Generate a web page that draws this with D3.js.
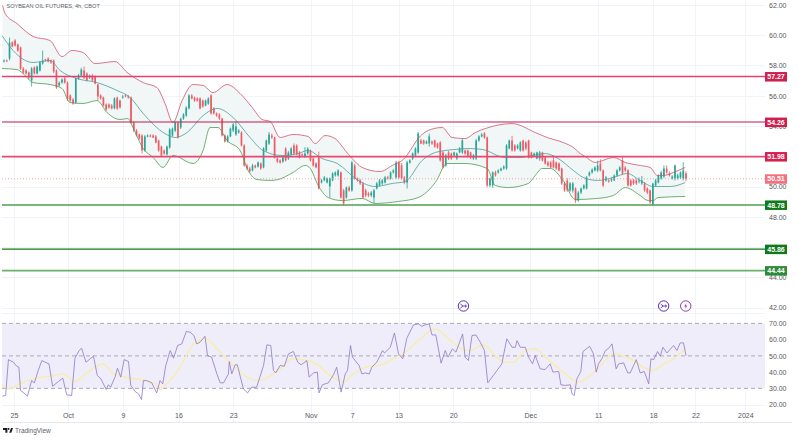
<!DOCTYPE html>
<html><head><meta charset="utf-8">
<script src="https://cdn.jsdelivr.net/npm/d3@7"></script>
<style>
html,body{margin:0;padding:0;background:#fff;overflow:hidden}
svg{display:block}
text{font-family:"Liberation Sans",Arial,sans-serif}
</style></head><body>
<svg id="c" width="799" height="440"></svg>
<script>
const opens=[
58.26,58.33,58.46,59.52,59.65,59.39,59.19,57.8,57.67,57.54,
57.01,57.87,57.47,57.67,58.13,58.4,58.46,58.33,58.33,57.67,
56.68,56.87,57.14,56.87,56.02,55.75,55.55,57.14,57.34,57.67,
57.47,57.2,57.34,57.27,56.74,56.02,55.88,55.42,55.42,55.35,
55.16,55.88,55.68,55.88,56.02,55.95,55.88,54.23,53.7,53.44,
53.37,52.38,53.31,53.37,53.37,53.31,53.04,52.64,52.38,52.12,
52.58,53.37,53.7,54.23,53.9,54.49,54.69,55.16,56.02,55.88,
55.82,55.82,55.68,55.35,55.48,56.02,55.16,54.83,54.76,54.49,
53.37,52.97,53.31,53.7,53.44,53.57,53.57,52.71,51.39,51.19,
51.06,51.39,51.32,51.52,51.26,52.38,52.84,53.37,53.24,51.85,
51.72,51.65,52.51,51.85,52.12,52.71,52.71,52.25,52.12,51.98,
52.18,52.38,51.85,51.52,51.92,50.26,50.4,50.26,50,50.4,
50.73,50.73,50.93,49.74,49.27,49.94,49.74,51.39,50.53,50.4,
50.2,49.74,49.54,49.41,49.27,49.87,50.07,50.2,50.26,50.6,
50.53,50.93,50.6,51.59,51.39,50.6,50.26,51.59,51.85,52.05,
52.25,53.04,53.04,52.84,52.84,52.97,53.04,52.84,52.91,52.25,
51.39,52.25,52.18,52.05,51.85,52.25,52.25,52.38,52.38,52.25,
51.85,51.85,53.04,53.31,53.5,53.24,50.07,50.07,50.93,50.93,
51.06,51.19,51.19,52.51,53.04,52.71,52.51,52.38,53.04,52.91,
53.04,52.25,52.05,51.85,51.85,52.25,51.92,51.59,51.59,51.72,
51.59,51.52,51.19,50.2,50.4,49.74,49.74,49.87,49.07,49.6,
49.87,49.87,50.73,50.93,51.06,51.06,51.52,51.06,50.4,50.4,
50.4,50.4,50.73,51.06,51.72,51.26,51.06,50.4,50.4,50.4,
50.33,50.2,50.2,49.87,49.74,48.81,50.07,50.26,50.53,50.66,
51.19,50.86,50.53,50.53,50.53,50.6,50.53,50.86];
const closes=[
58.33,58.3,59.52,59.25,59.32,58.99,57.8,57.54,57.47,57.2,
57.8,57.47,57.93,58.2,58.33,58.33,58.26,58.2,57.6,56.54,
56.87,57.07,56.87,55.75,55.68,55.48,57.14,57.34,57.73,57.2,
57.01,57.34,57.01,56.81,55.95,55.82,55.35,55.09,55.22,55.16,
55.82,55.16,55.22,55.95,55.95,55.88,54.23,53.7,53.37,53.17,
52.38,53.31,53.37,53.31,53.24,52.91,52.38,52.05,52.18,52.64,
53.77,53.83,54.23,53.24,54.49,54.76,55.22,56.02,55.82,55.68,
55.68,55.16,55.29,55.68,55.82,54.83,54.83,54.69,54.49,53.37,
52.97,53.31,53.83,54.1,53.97,53.7,52.71,51.39,51.19,50.99,
51.39,51.26,51.59,51.19,52.51,53.04,53.44,53.24,51.92,51.65,
51.59,51.92,51.72,52.25,52.51,52.18,52.12,51.92,52.05,52.18,
52.51,51.72,51.39,51.26,49.87,50.4,50.6,50.53,50.53,50.86,
50.93,51.06,49.27,48.88,49.94,49.74,51.59,50.53,50.4,50.2,
49.27,49.41,49.41,49.6,49.74,50.2,50.4,50.4,50.6,50.58,
50.93,51.06,51.59,50.6,50.53,50.26,51.59,51.72,52.18,52.51,
53.5,52.84,52.84,52.97,53.31,52.84,52.64,52.58,51.72,51.26,
52.05,51.85,51.85,52.25,52.18,52.51,53.04,52.18,51.98,51.92,
52.05,53.04,53.31,53.44,53.24,50.07,50.53,50.93,50.73,51.06,
51.19,51.32,52.71,53.04,52.38,52.38,52.71,52.91,52.38,52.51,
51.92,51.92,52.18,52.25,52.25,51.72,51.52,51.39,51.26,51.26,
51.19,51.06,50.2,49.74,49.74,50.2,50.2,49.07,49.6,49.87,
50.07,50.6,50.93,51.12,51.26,51.39,51.06,50.07,50.6,50.33,
50.53,50.73,51.06,51.26,50.86,51.06,50.07,50.07,50.2,50.2,
50.4,50.4,49.74,49.6,48.95,50.2,50.4,50.73,50.93,51.19,
50.93,50.73,50.66,51.39,50.73,50.93,51.06,50.51];
const highs=[
58.4,58.4,59.85,59.6,59.75,59.45,59.25,57.9,57.75,57.6,
57.9,57.95,58,58.3,58.99,58.45,58.55,58.4,58.4,57.75,
56.95,57.15,57.25,56.95,56.1,55.85,57.2,57.45,57.85,57.93,
57.55,57.4,57.45,57.35,56.8,56.1,55.95,55.5,55.5,55.45,
55.9,55.95,55.75,56.05,56.1,56.05,55.95,54.3,53.8,53.5,
53.45,53.4,53.45,53.45,53.45,53.4,53.1,52.7,52.45,52.7,
53.85,53.9,54.3,54.3,54.55,54.85,55.3,56.1,56.1,55.95,
55.9,55.9,55.75,55.75,55.9,56.1,55.25,54.9,54.85,54.55,
53.45,53.4,53.9,54.2,54.3,53.8,53.65,52.8,51.5,51.3,
51.5,51.45,51.65,51.6,52.6,53.1,53.6,53.5,53.3,51.95,
51.8,52,52.6,52.35,52.6,52.85,52.8,52.35,52.2,52.6,
52.6,52.45,51.95,51.6,52.3,50.5,50.7,50.6,50.6,50.95,
51,51.15,51.0,49.85,50,50.05,51.7,51.5,50.6,50.5,
50.3,49.85,49.65,49.7,49.85,50.3,50.5,50.5,50.7,50.7,
51,51.15,51.7,51.7,51.55,50.7,51.7,51.8,52.25,52.6,
53.6,53.15,53.1,53.05,53.5,53.05,53.1,52.9,53,52.35,
52.15,52.35,52.25,52.3,52.25,52.6,53.15,52.45,52.45,52.3,
52.15,53.15,53.4,53.55,53.6,53.3,50.6,51,51.05,51.15,
51.25,51.4,52.8,53.1,53.35,52.8,52.8,53,53.1,53,
53.1,52.3,52.25,52.3,52.35,52.3,52,51.7,51.7,52.05,
51.65,51.6,51.25,50.3,50.55,50.3,50.3,49.95,49.7,49.95,
50.15,50.7,51,51.2,51.35,51.7,51.8,51.12,50.7,50.5,
50.6,50.8,51.15,51.35,52.0,51.35,51.15,50.5,50.5,50.5,
50.6,50.7,50.3,49.95,49.8,50.25,50.5,50.8,51.05,51.4,
51.4,51,50.75,51.45,50.85,51,51.6,51];
const lows=[
58.2,58.25,58.33,59.2,59.25,58.9,57.7,57.45,57.4,57.1,
56.61,57.4,57.4,57.6,58.05,58.25,58.2,58.1,57.5,56.45,
56.6,56.8,56.8,55.65,55.6,55.4,55.45,57.05,57.3,57.1,
56.95,57.1,56.95,56.75,55.68,55.75,55.3,55.0,55.15,55.1,
55.1,55.05,55.15,55.8,55.9,55.8,54.15,53.6,53.3,53.1,
52.18,52.3,53.25,53.25,53.2,52.85,52.3,51.95,52.1,52.05,
52.5,53.3,53.6,53.17,53.8,54.4,54.6,55.1,55.75,55.6,
55.6,55.1,55.2,55.3,55.4,54.75,54.75,54.6,54.4,53.3,
52.9,52.9,53.25,53.6,53.35,53.5,52.65,51.3,51.1,50.9,
51,51.2,51.25,51.1,51.2,52.3,52.75,53.15,51.85,51.55,
51.5,51.55,51.65,51.75,52.05,52.1,52.05,51.85,51.95,51.9,
52.1,51.65,51.3,51.2,49.8,50.2,50.35,50.2,49.27,50.35,
50.65,50.65,49.2,48.74,49.2,49.65,49.65,50.45,50.3,50.1,
49.2,49.3,49.3,49.3,48.88,49.8,50,50.1,50.2,50.45,
50.45,50.85,50.5,50.5,50.45,50.15,49.87,51.5,51.75,52,
52.15,52.8,52.75,52.8,52.64,52.75,52.55,52.5,51.65,51.2,
51.3,51.75,51.75,51.95,51.75,52.2,52.15,52.05,51.9,51.8,
51.75,51.75,52.95,53.25,53.15,49.95,49.95,49.9,50.65,50.85,
51,51.1,51.1,52.45,52.3,52.3,52.45,52.3,52.3,52.4,
51.85,51.85,51.95,51.8,51.7,51.65,51.45,51.3,51.2,51.2,
51.1,51,50.1,49.65,49.65,49.65,49.6,48.9,49,49.5,
49.8,49.8,50.65,50.85,51,50.95,51,49.95,50.3,50.25,
50.3,50.35,50.65,51,50.75,50.95,50,50,50.1,50.1,
50.2,50.1,49.65,49.5,48.85,48.7,50,50.2,50.45,50.55,
50.85,50.65,50.45,50.4,50.45,50.5,50.4,50.35];

const upperBars=[-0.5,0.4,4.7,10.5,16.7,21,24.6,28.6,33,40.2,44.6,50.4,55.4,58.3,61.2,64.5,68.5,72.1,75.7,80.8,85.5,89.9,93.5,96.4,100,104.7,110.1,112.7,116.3,119.9,123.6,126.1,129.7,136.2,140.6,145.3,147.1,150,153.6,158.7,162.3,167,170.7,174.3,184,192.4,196.7,202.5,206.2,208.7,210.5,214.1,220.7,225,230.4,234,236.6,238.8,242.4,246.7];
const upperVals=[61.96,61.44,60.77,59.92,59.65,58.59,58.99,58.86,58.13,58.26,57.54,56.87,56.54,55.49,54.23,55.68,56.74,56.68,56.21,56.74,56.15,55.22,54.43,54.3,53.24,53.44,53.31,52.84,53.37,53.17,52.38,51.85,51.26,50.99,51.39,51.92,52.38,53.17,53.7,53.9,53.24,53.17,53.57,53.83,54.16,53.57,53.24,52.91,52.58,52.18,51.98,51.59,51.92,51.59,51.39,51.26,50.73,50.73,50.93,51.26];
const middleBars=[-0.7,3.3,10.5,16.7,20.3,26.4,33.7,40.9,45.7,50.4,58.3,62,66.3,72.1,77.2,83,89.1,93.8,100.7,106.5,110.1,115.2,120.7,128.3,134.4,140.6,145.3,151.4,156.2,163.4,168.1,173.2,181.5,187,191.3,196,200.7,206.2,209.8,214.9,220.7,225.7,230.4,235.1,241.3,246.7];
const middleVals=[59.98,58.99,58.2,58.33,57.67,57.14,56.87,56.35,55.88,54.83,53.5,53.24,53.57,54.69,55.16,54.56,53.24,52.38,52.05,52.18,52.38,51.85,51.52,50.4,50,50.2,50.33,51.72,52.25,52.45,52.51,52.45,51.92,51.92,52.05,52.18,51.85,51.06,50.6,50.4,50.6,50.86,50.4,50,50,50.26];
const lowerBars=[-0.7,4.7,6.9,10.5,16.7,21,23.9,28.6,33.7,37.3,42,44.9,46.7,50.4,54,57.6,61.2,68.5,72.1,74.6,77.5,80.8,85.5,88.4,91.7,96.4,99.3,104.7,109.1,110.9,113.8,117.4,122.5,129.7,134.4,142.8,150,156.2,160.5,167,175,177.9,182.6,189.9,192.4,194.9,197.8,202.5,206.9,214.9,220.7,225,230.4,233.3,235.1,236.9,246.7];
const lowerVals=[57.8,57.73,57.47,56.87,56.74,56.48,55.55,55.49,55.68,54.89,54.43,54.49,53.9,52.51,51.92,51.26,52.05,51.52,52.38,53.9,53.9,53.04,52.38,51.06,50.46,50.4,50.46,50.93,51.39,51.19,50.07,49.27,49.07,49.21,48.88,49.01,49.27,50.26,51.52,51.52,51.19,50.07,49.93,50.2,50.73,51.19,51.19,50.4,49.14,49.21,49.41,49.93,49.41,49.07,49.07,49.27,49.34];

const rsiBars=[-0.6,0.6,1.6,3.4,4.6,5.4,6,7.2,8.5,10,11,12.4,13.7,14.9,16.3,17.6,19.7,21.3,22.7,24.5,25.7,27.2,28.1,29.7,31.2,32.4,33.8,35.1,37,37.8,38.6,40.2,41.1,42.3,43.5,45.1,45.9,47.5,48.7,49.8,50.5,51.7,53.5,55.3,56.5,57.5,58.6,60.2,61.4,62.9,64.4,66,67.4,68.8,69.8,71,72.8,73.7,75.2,77.1,78.3,79.5,81.3,81.6,82.5,83.7,84.5,86.7,88.2,89.7,91.5,94,95.2,96.6,97.6,98.4,100,101.5,103,104.8,106.4,107.6,109.7,110.5,112.1,113.5,114.1,115.3,117.5,119.3,120.5,122.1,123.6,124.4,125.5,126.2,128.6,129.6,130.8,132.3,133.2,135,137.1,137.8,139.9,141.4,142.9,144.4,145.9,148.3,150.1,151.3,152.5,154,155,156.4,158.3,159.8,160.8,162.4,163.7,166.1,167,168.2,169.5,170.9,172.5,174,175.2,177.9,180.3,182.1,184,185.2,185.8,187,188.8,190,191.4,192.4,194.2,196,197.8,198.8,200.9,201.7,203.3,205.1,205.7,206.5,207.5,208.9,209.7,212.1,213.5,214.5,215.3,216.5,217.8,219,220.2,221.7,222.6,224.4,225.9,226.8,229,230.4,231.9,233.5,234.3,235.3,236.7,237.7,238.6,240.1,242.5,243.7,244.9,246.1,247];
const rsiVals=[25.2,25.6,47.7,46.1,43.6,43,28.7,27.2,25.2,34.8,33.4,41,47.1,46.1,45.1,31.3,34.2,36.3,26,25.6,48.6,53.3,54.7,46.1,48.2,49.8,37.9,35.9,29.3,32.2,30.7,36.9,42.4,36.9,47.7,46.5,31.8,28.1,26.6,23.1,34.8,34.8,33.4,27.2,34.8,32.8,44.1,53.3,48.6,56.4,57.4,65,64.6,62.5,57.4,58.4,62.1,50.2,49.2,38.9,33.4,33.4,38.9,46.5,38.9,44.5,44.5,29.7,27.2,30.7,30.7,44.1,56.8,56.4,41,39.5,44.1,43.6,51.2,52.7,46.1,44.5,47.1,36.9,39.5,40,27.2,32.2,33.4,38.3,43,27.7,38.9,41,56.4,49.2,44.1,38.9,39.5,38.9,43,46.1,53.3,51.8,55.3,64.1,51.2,48.2,60.9,69.1,69.7,68.2,69.1,69.7,62.9,62.9,45.5,53.3,49.2,54.3,52.3,63.5,49.2,47.1,62.5,62.9,58.4,53.3,33.4,39.5,45.1,60.5,55.3,55.3,59.4,55.3,55.3,49.2,45.1,50.2,42,41.6,45.1,40,40.4,32.2,31.8,32.2,26.6,25.6,35.9,40.4,52.7,55.9,51.2,40,45.1,48.2,53.3,54.7,57.4,42,45.1,45.7,39.5,39.5,47.7,39.5,40.4,32.8,48.2,47.7,52.7,49.8,55.3,51.8,56.4,53.3,58,58,50.2];
const rsiMaBars=[-0.6,1.6,5.8,10.6,16.7,21.5,25.7,30,35.8,39.6,43.8,49.3,54.7,56.5,58.9,63.8,68.6,73.4,77.1,81.9,87.9,92.1,94.6,100.6,104.2,109.7,113.9,118.1,123,126.6,130.8,136.8,141,145.3,150.1,156.2,161,165.8,168.8,173.7,177.9,181.5,184.6,188.8,192.4,196,202.7,208.1,214.7,220.8,226.8,231.6,234.7,238.9,242.5,247];
const rsiMaVals=[32.2,29.7,32.8,35.9,37.5,38.9,34.2,39.5,45.1,38.9,36.9,35.4,32.8,29.3,32.8,43,57.4,60.5,54.3,46.1,36.9,34.8,35.9,43,48.2,47.1,44.1,37.9,34.2,38.9,43,44.5,48.2,52.3,59.4,66.6,60.5,54.3,53.3,56.8,50.2,46.1,46.1,53.3,54.3,49.2,40,33.8,41.6,51.2,48.2,43,41,45.1,48.2,54.7];

const priceGrid=[62,60,58,56,54,52,50,48,46,44,42];
const priceTicks=[62,60,58,56,54,50,48,44,42];
const rsiTicks=[70,60,50,40,30,20];
const rsiDashed=[70,50,30];
const timeTickBars=[3.6,23.2,43.1,63.2,83,111.1,126.1,142.9,162.7,190.6,215.2,235.1,250.4,268.5];
const timeTickLabels=["25","Oct","9","16","23","Nov","7","13","20","Dec","11","18","22","2024"];
const levelPrices=[57.27,54.26,51.98,48.78,45.86,44.44];
const levelLineColors=["#e2416c","#bb1d48","#e8486f","#4f9f50","#127a12","#6bb06b"];
const levelTagColors=["#cf1f4d","#cf1f4d","#d81e4e","#0f7a1b","#0f7a1b","#2e8b3a"];
const levelWidths=[1.6,1.1,1.8,1.6,1.1,1.6];
const lastPrice=50.51;
const eventBars=[166.4,238.9,246.9];
const eventTypes=["split","split","flash"];
const chartTitle="SOYBEAN OIL FUTURES, 4h, CBOT";

const W=799,H=440,L=2,R=765;
const x=d3.scaleLinear().domain([0,247]).range([4,686]);
const y=d3.scaleLinear().domain([42,62]).range([307.5,5]);
const yr=d3.scaleLinear().domain([20,70]).range([404.6,323.4]);
const svg=d3.select("#c");
svg.append("defs").append("clipPath").attr("id","clip").append("rect").attr("x",L).attr("y",0).attr("width",R-L).attr("height",422);

const grid=svg.append("g").attr("stroke","#f0f3fa").attr("stroke-width",1);
grid.selectAll("line.v").data(timeTickBars).join("line").attr("x1",d=>Math.round(x(d))+.5).attr("x2",d=>Math.round(x(d))+.5).attr("y1",0).attr("y2",422);
grid.selectAll("line.h").data(priceGrid).join("line").attr("class","h").attr("x1",L).attr("x2",R).attr("y1",d=>Math.round(y(d))+.5).attr("y2",d=>Math.round(y(d))+.5);
grid.append("line").attr("x1",L).attr("x2",R).attr("y1",313.5).attr("y2",313.5);
grid.append("line").attr("x1",L).attr("x2",R).attr("y1",Math.round(yr(20))+.5).attr("y2",Math.round(yr(20))+.5);
svg.append("line").attr("x1",L).attr("x2",792).attr("y1",422.5).attr("y2",422.5).attr("stroke","#e6e8ee");

const plot=svg.append("g").attr("clip-path","url(#clip)");
const pts=(b,v)=>b.map((d,i)=>[d,v[i]]);
const band=d3.line().x(d=>x(d[0])).y(d=>y(d[1])).curve(d3.curveMonotoneX);
const up=pts(upperBars,upperVals),mid=pts(middleBars,middleVals),lowPts=pts(lowerBars,lowerVals);
const lowerRev=band(lowPts.slice().reverse());
plot.append("path").attr("d",band(up)+"L"+lowerRev.slice(1)+"Z").attr("fill","#f0f7f6");

const cdx=d3.range(opens.length);
const cand=plot.append("g");
const upCol="#2aa596",dnCol="#ef5a66";
cand.selectAll("line").data(cdx).join("line")
 .attr("x1",i=>x(i)).attr("x2",i=>x(i)).attr("y1",i=>y(highs[i])).attr("y2",i=>y(lows[i]))
 .attr("stroke",i=>closes[i]>=opens[i]?upCol:dnCol).attr("stroke-width",.8);
cand.selectAll("rect").data(cdx).join("rect")
 .attr("x",i=>x(i)-.85).attr("width",1.7)
 .attr("y",i=>y(Math.max(opens[i],closes[i])))
 .attr("height",i=>Math.max(1,Math.abs(y(opens[i])-y(closes[i]))))
 .attr("fill",i=>closes[i]>=opens[i]?upCol:dnCol);

plot.append("path").attr("d",band(up)).attr("fill","none").attr("stroke","#d1536f").attr("stroke-width",.8);
plot.append("path").attr("d",band(mid)).attr("fill","none").attr("stroke","#4f9a9a").attr("stroke-width",.8);
plot.append("path").attr("d",band(lowPts)).attr("fill","none").attr("stroke","#4c9a4f").attr("stroke-width",.8);

plot.append("line").attr("x1",L).attr("x2",R).attr("y1",y(lastPrice)).attr("y2",y(lastPrice)).attr("stroke","#f08a98").attr("stroke-width",.8).attr("stroke-dasharray","1 2");

plot.selectAll("line.lv").data(levelPrices).join("line").attr("class","lv")
 .attr("x1",L).attr("x2",R).attr("y1",d=>y(d)).attr("y2",d=>y(d))
 .attr("stroke",(d,i)=>levelLineColors[i]).attr("stroke-width",(d,i)=>levelWidths[i]);

// RSI pane
svg.append("rect").attr("x",L).attr("width",R-L).attr("y",yr(70)).attr("height",yr(30)-yr(70)).attr("fill","#f0edfa");
svg.selectAll("line.rd").data(rsiDashed).join("line").attr("class","rd")
 .attr("x1",L).attr("x2",R).attr("y1",d=>yr(d)).attr("y2",d=>yr(d))
 .attr("stroke","#9a97a3").attr("stroke-width",.8).attr("stroke-dasharray","4 3");
const rl=d3.line().x(d=>x(d[0])).y(d=>yr(d[1]));
svg.append("path").attr("d",rl.curve(d3.curveMonotoneX)(pts(rsiMaBars,rsiMaVals))).attr("fill","none").attr("stroke","#f6edb4").attr("stroke-width",1.6);
svg.append("path").attr("d",rl.curve(d3.curveLinear)(pts(rsiBars,rsiVals))).attr("fill","none").attr("stroke","#8f78c4").attr("stroke-width",.8);

// axes
const axisStyle=g=>{g.select(".domain").remove();g.selectAll(".tick line").remove();g.selectAll("text").attr("fill","#55585f").attr("font-size",7).attr("font-family","'Liberation Sans',Arial,sans-serif");};
svg.append("g").attr("transform","translate(769,0)").call(d3.axisRight(y).tickValues(priceTicks).tickFormat(d3.format(".2f")).tickSize(0).tickPadding(0)).call(axisStyle);
svg.append("g").attr("transform","translate(769,0)").call(d3.axisRight(yr).tickValues(rsiTicks).tickFormat(d3.format(".2f")).tickSize(0).tickPadding(0)).call(axisStyle);
svg.append("g").attr("transform","translate(0,413)").call(d3.axisBottom(x).tickValues(timeTickBars).tickFormat((d,i)=>timeTickLabels[i]).tickSize(0).tickPadding(0)).call(axisStyle);

// level tags
const tagData=levelPrices.map((p,i)=>({p,col:levelTagColors[i]})).concat([{p:lastPrice,col:"#f4717f"}]);
const tags=svg.append("g").selectAll("g").data(tagData).join("g").attr("transform",d=>`translate(765,${y(d.p)})`);
tags.append("rect").attr("x",0).attr("y",-4.5).attr("width",22).attr("height",9.5).attr("fill",d=>d.col);
tags.append("text").attr("x",11).attr("y",2.7).attr("text-anchor","middle").attr("font-size",7).attr("font-weight",700).attr("fill","#fff").text(d=>d.p.toFixed(2));

// event icons
const ev=svg.append("g").selectAll("g").data(eventBars).join("g").attr("transform",d=>`translate(${x(d)},306)`);
ev.append("circle").attr("r",5.2).attr("fill","#fff").attr("stroke",(d,i)=>eventTypes[i]==="flash"?"#8e3fb0":"#5a2fc2").attr("stroke-width",1);
ev.append("path").attr("d",(d,i)=>eventTypes[i]==="flash"?"M0.8,-3 L-1.6,0.4 L0,0.4 L-0.8,3 L1.6,-0.6 L0,-0.6Z":"M-3,-2 L-0.5,0 L-3,2 M-0.5,0 L3,0 M1.5,-1.3 L3,0 L1.5,1.3")
 .attr("fill",(d,i)=>eventTypes[i]==="flash"?"#8e3fb0":"none").attr("stroke",(d,i)=>eventTypes[i]==="flash"?"none":"#5a2fc2").attr("stroke-width",.9);

// title & logo
svg.append("text").attr("x",6.5).attr("y",8).attr("font-size",5.6).attr("fill","#5a5f68").text(chartTitle);
const logo=svg.append("g").attr("transform","translate(3,428)").attr("fill","#131722");
logo.append("path").attr("d","M0,0H4.4V4.8H2.4V2H0Z");
logo.append("circle").attr("cx",5.6).attr("cy",1).attr("r",.9);
logo.append("path").attr("d","M6.2,4.8L8,0H10L8.2,4.8Z");
svg.append("text").attr("x",15).attr("y",433).attr("font-size",6.5).attr("fill","#5a5e66").text("TradingView");
</script></body></html>
